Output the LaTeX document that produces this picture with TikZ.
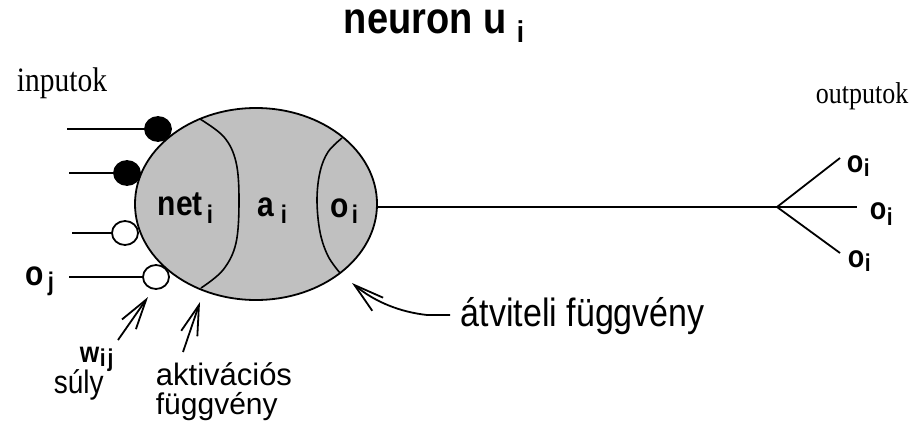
\documentclass[tikz,border=0pt]{standalone}
\usepackage{fontspec}
\setmainfont{Liberation Serif}
\newfontfamily\arialf{Liberation Sans}
\usetikzlibrary{shapes.geometric,arrows.meta}
\definecolor{cellgray}{RGB}{192,192,192}
\newcommand\vst[1]{\scalebox{1}[1.16]{#1}}
\begin{document}
\begin{tikzpicture}[x=1pt,y=-1pt,line width=1.8pt,
  lbl/.style={inner sep=0pt,anchor=base west},
  bsans/.style={lbl,font=\arialf\bfseries\fontsize{#1}{#1}\selectfont},
  rsans/.style={lbl,font=\arialf\fontsize{#1}{#1}\selectfont},
  serifl/.style={lbl,font=\fontsize{#1}{#1}\selectfont},
  syn/.style={draw,ellipse,inner sep=0pt,minimum width=26pt,minimum height=24pt},
  synfill/.style={syn,fill=black},
  synopen/.style={syn,fill=white},
  barb/.style={-{Straight Barb[length=30pt,width=17pt]}},
  arcline/.style={line width=1.6pt}]
\useasboundingbox (0,0) rectangle (918,428);

% title
\node[bsans=38] (title) at (343,34) {\vst{neuron u}};
\node[bsans=26] (titlei) at (516,43) {\vst{i}};

% labels
\node[serifl=29.5] (inp) at (16,92) {\vst{inputok}};
\node[serifl=26] (outp) at (815,103) {\vst{outputok}};

% neuron body
\node[draw,fill=cellgray,ellipse,minimum width=242pt,minimum height=192pt,inner sep=0pt] (neuron) at (256,204) {};
\draw[arcline] plot[smooth,tension=0.6] coordinates {(200,119) (224,137) (236,162) (239,200) (236,243) (223,270) (201,288)};
\draw[arcline] plot[smooth,tension=0.6] coordinates {(342,138) (328,152) (320,172) (317,200) (320,232) (328,256) (340,273)};

\node[bsans=30] (net) at (157,215) {\vst{net}};
\node[bsans=22] (neti) at (206,223) {\vst{i}};
\node[bsans=30] (act) at (257,216) {\vst{a}};
\node[bsans=22] (acti) at (280,223) {\vst{i}};
\node[bsans=30] (outv) at (330,217) {\vst{o}};
\node[bsans=22] (outvi) at (351,223) {\vst{i}};

% synapses and inputs
\node[synfill] (c1) at (158,129) {};
\node[synfill] (c2) at (127,173) {};
\node[synopen] (c3) at (125,233) {};
\node[synopen] (c4) at (156,277) {};
\coordinate (i1) at (67,129);
\coordinate (i2) at (69,173);
\coordinate (i3) at (72,233);
\coordinate (i4) at (69,277);
\draw (i1) -- (c1);
\draw (i2) -- (c2);
\draw (i3) -- (c3);
\draw (i4) -- (c4);
\node[bsans=30] (oj) at (25,285) {\vst{o}};
\node[bsans=22] (ojj) at (47,290) {\vst{j}};

% output
\coordinate (junc) at (777,207);
\coordinate (b1) at (840,158);
\coordinate (b2) at (857,207);
\coordinate (b3) at (840,253);
\draw (junc -| neuron.east) -- (junc);
\draw (junc) -- (b1);
\draw (junc) -- (b2);
\draw (junc) -- (b3);
\node[bsans=27] (o1) at (846,172) {\vst{o}};
\node[bsans=21] (o1i) at (863,176) {\vst{i}};
\node[bsans=27] (o2) at (869,219) {\vst{o}};
\node[bsans=21] (o2i) at (886,225) {\vst{i}};
\node[bsans=27] (o3) at (847,267) {\vst{o}};
\node[bsans=21] (o3i) at (864,271) {\vst{i}};

% bottom labels
\node[bsans=25] (w) at (79,362) {\vst{w}};
\node[bsans=21] (wij) at (99,366) {\vst{i\kern2pt j}};
\node[rsans=28] (suly) at (53,393) {\vst{súly}};
\node[rsans=31] (akt) at (155,385) {aktivációs};
\node[rsans=30] (fugg) at (155,414) {függvény};
\node[rsans=34] (atv) at (460,326) {\vst{átviteli függvény}};

% arrows
\coordinate (wt) at (118,340);
\coordinate (wh) at (148,297);
\draw[barb] (wt) -- (wh);
\coordinate (at) at (183,352);
\coordinate (ah) at (200,302);
\draw[barb] (at) -- (ah);
\coordinate (vt) at (450,315);
\coordinate (vm) at (427,315);
\coordinate (vh) at (352,283);
\draw[barb] (vt) -- (vm) .. controls (400,312) and (375,302) .. (vh);
\end{tikzpicture}
\end{document}
